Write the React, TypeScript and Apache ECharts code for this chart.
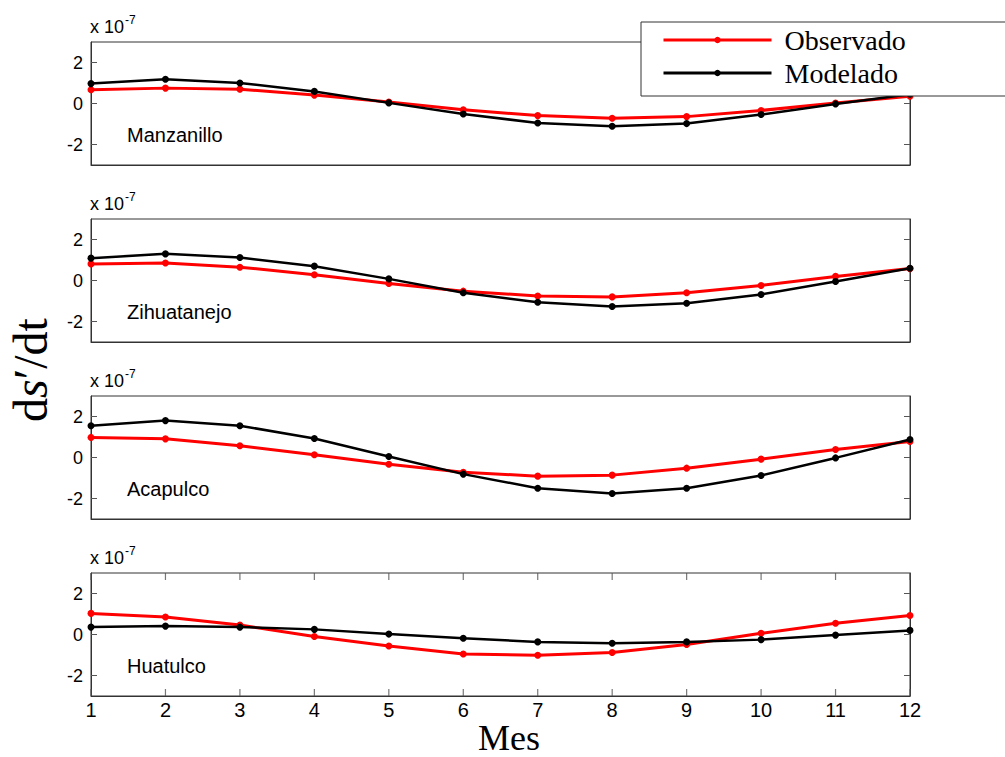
import React, { useEffect, useRef } from "react";
import * as echarts from "echarts";

const months = [1, 2, 3, 4, 5, 6, 7, 8, 9, 10, 11, 12];
const stations = ["Manzanillo", "Zihuatanejo", "Acapulco", "Huatulco"];
const yTicks = [-2, 0, 2];
const seriesNames = ["Observado", "Modelado"];

const manzObs = [0.67, 0.75, 0.7, 0.41, 0.07, -0.31, -0.59, -0.72, -0.64, -0.34, 0.02, 0.35];
const manzMod = [0.97, 1.18, 1.0, 0.59, 0.03, -0.51, -0.95, -1.11, -0.98, -0.54, -0.02, 0.45];
const zihObs = [0.81, 0.85, 0.65, 0.28, -0.15, -0.52, -0.76, -0.8, -0.6, -0.24, 0.2, 0.58];
const zihMod = [1.09, 1.3, 1.12, 0.7, 0.08, -0.6, -1.06, -1.27, -1.11, -0.68, -0.05, 0.6];
const acaObs = [0.98, 0.91, 0.57, 0.13, -0.33, -0.72, -0.91, -0.86, -0.52, -0.08, 0.39, 0.78];
const acaMod = [1.55, 1.8, 1.55, 0.93, 0.05, -0.81, -1.5, -1.76, -1.5, -0.88, -0.02, 0.88];
const huaObs = [1.03, 0.85, 0.46, -0.1, -0.56, -0.95, -1.01, -0.88, -0.49, 0.06, 0.55, 0.93];
const huaMod = [0.36, 0.41, 0.36, 0.25, 0.02, -0.18, -0.36, -0.43, -0.36, -0.25, -0.03, 0.2];

const observed = [manzObs, zihObs, acaObs, huaObs];
const modeled = [manzMod, zihMod, acaMod, huaMod];

const GRID_LEFT = 91;
const GRID_WIDTH = 819;
const GRID_TOPS = [42, 219, 396, 573];
const GRID_HEIGHT = 123;
const Y_MIN = -3;
const Y_MAX = 3;
const SANS = "Liberation Sans, Arial, Helvetica, sans-serif";
const SERIF = "Liberation Serif, Times New Roman, serif";
const AXIS_COLOR = "#333";
const TICK_COLOR = "#555";

export default function App() {
  const ref = useRef<HTMLDivElement>(null);

  useEffect(() => {
    if (!ref.current) return;
    const chart = echarts.init(ref.current, undefined, { renderer: "svg" });

    const grids: any[] = [];
    const xAxes: any[] = [];
    const yAxes: any[] = [];
    const series: any[] = [];
    const graphics: any[] = [];

    GRID_TOPS.forEach((top, i) => {
      grids.push({
        left: GRID_LEFT,
        top,
        width: GRID_WIDTH,
        height: GRID_HEIGHT,
        show: true,
        borderColor: AXIS_COLOR,
        borderWidth: 1,
        backgroundColor: "transparent",
      });
      const isLast = i === GRID_TOPS.length - 1;
      const axisLine = {
        show: true,
        onZero: false,
        lineStyle: { color: AXIS_COLOR, width: 1 },
      };
      xAxes.push({
        type: "value",
        gridIndex: i,
        min: 1,
        max: 12,
        interval: 1,
        position: "bottom",
        axisLine,
        splitLine: { show: false },
        axisTick: { show: false },
        axisLabel: {
          show: isLast,
          fontFamily: SANS,
          fontSize: 20,
          color: "#000",
          margin: 4,
        },
      });
      yAxes.push({
        type: "value",
        gridIndex: i,
        min: Y_MIN,
        max: Y_MAX,
        interval: 1,
        position: "left",
        axisLine,
        splitLine: { show: false },
        axisTick: {
          show: true,
          inside: true,
          length: 6,
          customValues: yTicks,
          lineStyle: { color: TICK_COLOR, width: 1 },
        },
        axisLabel: {
          show: true,
          customValues: yTicks,
          fontFamily: SANS,
          fontSize: 18,
          color: "#000",
          margin: 8,
        },
      });
      yAxes.push({
        type: "value",
        gridIndex: i,
        min: Y_MIN,
        max: Y_MAX,
        interval: 1,
        position: "right",
        axisLine,
        splitLine: { show: false },
        axisTick: {
          show: true,
          inside: true,
          length: 6,
          customValues: yTicks,
          lineStyle: { color: TICK_COLOR, width: 1 },
        },
        axisLabel: { show: false },
      });

      series.push({
        name: seriesNames[0],
        type: "line",
        xAxisIndex: i,
        yAxisIndex: i * 2,
        data: months.map((m, k) => [m, observed[i][k]]),
        symbol: "circle",
        symbolSize: 7,
        color: "#ff0000",
        lineStyle: { color: "#ff0000", width: 3 },
        itemStyle: { color: "#ff0000" },
        z: 2,
      });
      series.push({
        name: seriesNames[1],
        type: "line",
        xAxisIndex: i,
        yAxisIndex: i * 2,
        data: months.map((m, k) => [m, modeled[i][k]]),
        symbol: "circle",
        symbolSize: 7,
        color: "#000000",
        lineStyle: { color: "#000000", width: 2.5 },
        itemStyle: { color: "#000000" },
        z: 3,
      });

      if (isLast) {
        // month ticks on the bottom edge (pointing up) and top edge (pointing down)
        series.push({
          type: "scatter",
          xAxisIndex: i,
          yAxisIndex: i * 2,
          data: months.map((m) => [m, Y_MIN]),
          symbol: "rect",
          symbolSize: [1.2, 7],
          symbolOffset: [0, -3.5],
          itemStyle: { color: TICK_COLOR },
          silent: true,
          clip: false,
          z: 5,
        });
        series.push({
          type: "scatter",
          xAxisIndex: i,
          yAxisIndex: i * 2,
          data: months.map((m) => [m, Y_MAX]),
          symbol: "rect",
          symbolSize: [1.2, 7],
          symbolOffset: [0, 3.5],
          itemStyle: { color: TICK_COLOR },
          silent: true,
          clip: false,
          z: 5,
        });
      }

      graphics.push({
        type: "text",
        left: 127,
        top: top + 83,
        style: {
          text: stations[i],
          fontFamily: SANS,
          fontSize: 20,
          fill: "#000",
        },
      });
      graphics.push({
        type: "text",
        x: 90,
        y: top - 6,
        style: {
          text: "x 10",
          fontFamily: SANS,
          fontSize: 18,
          fill: "#000",
          verticalAlign: "bottom",
          align: "left",
        },
      });
      graphics.push({
        type: "text",
        x: 125,
        y: top - 16,
        style: {
          text: "-7",
          fontFamily: SANS,
          fontSize: 12,
          fill: "#000",
          verticalAlign: "bottom",
          align: "left",
        },
      });
    });

    graphics.push({
      type: "text",
      x: 509,
      y: 756,
      style: {
        text: "Mes",
        fontFamily: SERIF,
        fontSize: 36,
        fill: "#000",
        align: "center",
        verticalAlign: "bottom",
      },
    });
    graphics.push({
      type: "text",
      x: 30,
      y: 370,
      rotation: Math.PI / 2,
      style: {
        text: "{a|d}{b|s}{a|\u2032/dt}",
        fontFamily: SERIF,
        fontSize: 48,
        fill: "#000",
        align: "center",
        verticalAlign: "middle",
        rich: {
          a: { fontFamily: SERIF, fontSize: 48, fill: "#000" },
          b: { fontFamily: SERIF, fontSize: 48, fontStyle: "italic", fill: "#000" },
        },
      },
    });

    chart.setOption({
      animation: false,
      backgroundColor: "#fff",
      grid: grids,
      xAxis: xAxes,
      yAxis: yAxes,
      series,
      legend: {
        data: seriesNames,
        orient: "vertical",
        left: 641,
        top: 22,
        itemWidth: 108,
        itemHeight: 8,
        itemGap: 3,
        padding: [3, 140, 8, 21],
        backgroundColor: "#fff",
        borderColor: AXIS_COLOR,
        borderWidth: 1,
        borderRadius: 0,
        selectedMode: false,
        lineStyle: { width: 3 },
        itemStyle: { borderWidth: 0 },
        textStyle: {
          fontFamily: SERIF,
          fontSize: 28,
          lineHeight: 30,
          color: "#000",
          padding: [0, 0, 0, 8],
        },
        z: 10,
      },
      graphic: graphics,
    });

    return () => chart.dispose();
  }, []);

  return (
    <div
      ref={ref}
      style={{ position: "absolute", left: 0, top: 0, width: 1005, height: 757 }}
    />
  );
}
